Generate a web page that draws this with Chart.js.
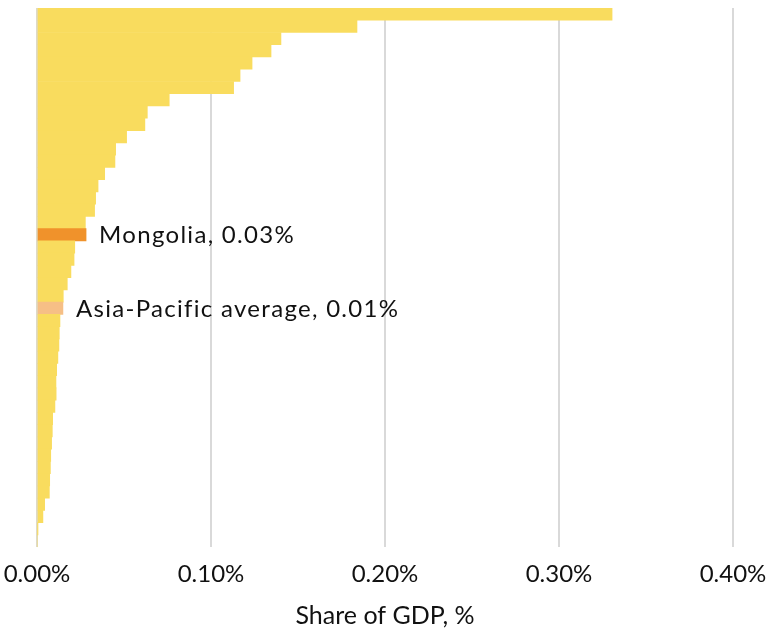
<!DOCTYPE html>
<html>
<head>
<meta charset="utf-8">
<script src="https://cdn.jsdelivr.net/npm/chart.js@4"></script>
<style>
  html, body { margin: 0; padding: 0; background: #fff; }
  #wrap { width: 773px; height: 632px; }
</style>
</head>
<body>
<div id="wrap"><canvas id="chart" width="773" height="632"></canvas></div>
<script>
// economies ranked by share of GDP (only two are named in the chart)
const economies = [
  'e1', 'e2', 'e3', 'e4', 'e5', 'e6', 'e7', 'e8', 'e9', 'e10',
  'e11', 'e12', 'e13', 'e14', 'e15', 'e16', 'e17', 'e18', 'Mongolia', 'e20',
  'e21', 'e22', 'e23', 'e24', 'Asia-Pacific average', 'e26', 'e27', 'e28', 'e29', 'e30',
  'e31', 'e32', 'e33', 'e34', 'e35', 'e36', 'e37', 'e38', 'e39', 'e40',
  'e41', 'e42', 'e43', 'e44'
];
// share of GDP, %
const shares = [
  0.3305, 0.1839, 0.1402, 0.1345, 0.1236, 0.1167, 0.1130, 0.0760, 0.0634, 0.0620,
  0.0515, 0.0452, 0.0448, 0.0389, 0.0351, 0.0337, 0.0331, 0.0278, 0.0282, 0.0217,
  0.0213, 0.0195, 0.0174, 0.0151, 0.0149, 0.0132, 0.0128, 0.0126, 0.0120, 0.0113,
  0.0109, 0.0110, 0.0103, 0.0090, 0.0088, 0.0084, 0.0079, 0.0077, 0.0073, 0.0071,
  0.0044, 0.0034, 0.0003, 0
];
const xTicks = [0, 0.1, 0.2, 0.3, 0.4];
const callouts = { 'Mongolia': 'Mongolia, 0.03%', 'Asia-Pacific average': 'Asia-Pacific average, 0.01%' };

const FONT = 'Lato, "Open Sans", sans-serif';

const barColors = economies.map(e =>
  e === 'Mongolia' ? '#F0922B' : e === 'Asia-Pacific average' ? '#F6BF86' : '#F9DC5E');

const calloutPlugin = {
  id: 'callouts',
  afterDatasetsDraw(chart) {
    const ctx = chart.ctx;
    const meta = chart.getDatasetMeta(0);
    const xs = chart.scales.x;
    ctx.save();
    ctx.font = '24px ' + FONT;
    ctx.letterSpacing = '1.3px';
    ctx.fillStyle = '#111';
    ctx.textBaseline = 'middle';
    economies.forEach((e, i) => {
      if (!callouts[e]) return;
      const bar = meta.data[i];
      ctx.fillText(callouts[e], xs.getPixelForValue(shares[i]) + 13, bar.y + 1);
    });
    ctx.restore();
  }
};

new Chart(document.getElementById('chart'), {
  type: 'bar',
  data: {
    labels: economies,
    datasets: [{
      data: shares,
      backgroundColor: barColors,
      borderWidth: 0,
      barPercentage: 1,
      categoryPercentage: 1
    }]
  },
  options: {
    indexAxis: 'y',
    responsive: false,
    animation: false,
    layout: { padding: { top: 8, left: 0, right: 0, bottom: 1 } },
    plugins: { legend: { display: false }, tooltip: { enabled: false } },
    scales: {
      y: { display: false },
      x: {
        min: 0,
        max: 0.4,
        afterBuildTicks: axis => { axis.ticks = xTicks.map(v => ({ value: v })); },
        afterFit: axis => { axis.paddingLeft = 37; axis.paddingRight = 40; },
        grid: {
          drawTicks: true,
          tickLength: 9,
          tickColor: 'rgba(0,0,0,0)',
          lineWidth: 2,
          color: ctx => ctx.index === 0 ? '#DEDAC6' : '#D9D9D9'
        },
        border: { display: false },
        ticks: {
          padding: 4,
          color: '#111',
          font: { family: FONT, size: 24 },
          maxRotation: 0,
          callback: v => v.toFixed(2) + '%'
        },
        title: {
          display: true,
          text: 'Share of GDP, %',
          color: '#111',
          font: { family: FONT, size: 25 },
          padding: { top: 8, bottom: 0 }
        }
      }
    }
  },
  plugins: [calloutPlugin]
});
</script>
</body>
</html>
